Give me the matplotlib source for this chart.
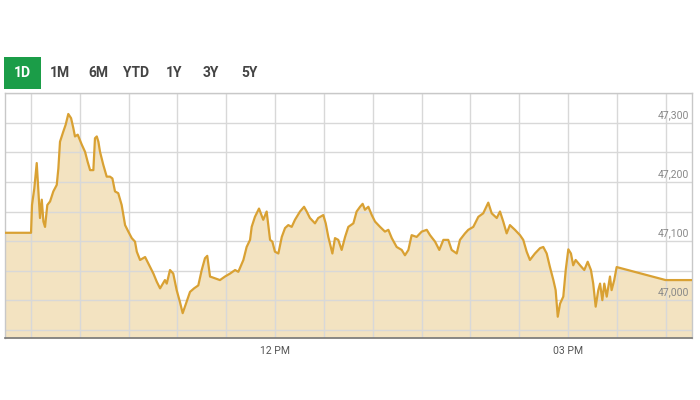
import matplotlib
matplotlib.use("Agg")
import matplotlib.pyplot as plt
from matplotlib.patches import Rectangle

# Time in minutes since midnight, index value
minutes = [554.0, 570.0, 570.6, 572.0, 573.5, 574.5, 575.5, 576.6, 577.6, 578.6, 580.0,
           581.7, 583.7, 585.8, 586.8, 587.8, 589.8, 591.3, 592.9, 594.6, 596.0, 597.0,
           598.7, 601.2, 603.2, 604.8, 606.3, 608.3, 609.3, 610.4, 611.4, 612.4, 614.4,
           616.5, 618.5, 620.0, 621.6, 623.6, 625.7, 627.8, 629.8, 631.9, 633.9, 635.0,
           637.0, 640.1, 642.1, 645.2, 647.3, 649.3, 652.3, 653.4, 655.4, 657.4, 659.5,
           661.5, 663.2, 665.2, 667.7, 670.2, 672.8, 674.9, 676.9, 678.3, 680.0, 683.1,
           686.1, 689.2, 692.3, 695.4, 697.4, 700.5, 702.5, 704.6, 705.6, 707.6, 710.1,
           712.7, 714.8, 716.9, 718.3, 719.9, 722.0, 724.1, 726.1, 728.1, 730.2, 732.2,
           735.3, 737.8, 739.4, 741.4, 744.5, 746.5, 749.6, 751.1, 752.7, 755.2, 756.8,
           758.8, 760.9, 763.0, 765.0, 768.1, 770.1, 772.2, 773.8, 775.2, 777.3, 779.4,
           781.4, 784.5, 787.5, 789.6, 791.7, 794.7, 797.8, 799.8, 801.9, 803.9, 807.0,
           810.1, 813.2, 815.2, 818.3, 820.9, 823.4, 826.4, 828.5, 831.6, 833.6, 836.7,
           838.7, 841.8, 844.9, 847.9, 851.0, 853.1, 856.2, 858.2, 860.2, 862.3, 864.3,
           867.4, 870.5, 872.5, 874.6, 876.6, 879.7, 882.8, 884.8, 886.9, 888.9, 891.0,
           892.4, 893.7, 895.1, 897.1, 898.6, 900.2, 901.8, 903.2, 904.7, 907.4, 910.0,
           912.1, 914.1, 915.5, 917.0, 918.6, 919.7, 921.1, 922.3, 923.8, 925.8, 926.8,
           928.4, 929.9, 960.0, 976.2]
values = [47114, 47114, 47161, 47189, 47232, 47184, 47139, 47170, 47133, 47124, 47161,
          47167, 47184, 47195, 47223, 47268, 47285, 47297, 47315, 47308, 47291, 47277,
          47280, 47263, 47251, 47234, 47220, 47220, 47274, 47277, 47268, 47251, 47229,
          47209, 47209, 47206, 47184, 47181, 47161, 47127, 47116, 47105, 47099, 47082,
          47068, 47073, 47062, 47045, 47031, 47020, 47034, 47028, 47051, 47045, 47017,
          46997, 46978, 46994, 47014, 47020, 47025, 47051, 47071, 47075, 47040, 47037,
          47034, 47040, 47045, 47051, 47048, 47068, 47090, 47102, 47124, 47141, 47155,
          47136, 47150, 47102, 47099, 47082, 47079, 47107, 47122, 47127, 47124, 47136,
          47150, 47158, 47150, 47139, 47130, 47139, 47144, 47130, 47107, 47079, 47105,
          47102, 47085, 47107, 47124, 47130, 47150, 47158, 47163, 47153, 47158, 47144,
          47133, 47124, 47116, 47119, 47105, 47090, 47085, 47076, 47085, 47110, 47107,
          47116, 47119, 47110, 47099, 47085, 47102, 47102, 47085, 47079, 47102, 47113,
          47119, 47124, 47141, 47147, 47165, 47147, 47139, 47150, 47133, 47113, 47127,
          47119, 47110, 47102, 47082, 47068, 47079, 47088, 47090, 47079, 47056, 47034,
          47017, 46972, 46994, 47006, 47051, 47086, 47079, 47059, 47068, 47059, 47051,
          47065, 47051, 47028, 46989, 47017, 47028, 47000, 47028, 47006, 47040, 47017,
          47034, 47056, 47034, 47034]

buttons = ["1D", "1M", "6M", "YTD", "1Y", "3Y", "5Y"]
y_ticks = [47000, 47100, 47200, 47300]
y_tick_labels = ["47,000", "47,100", "47,200", "47,300"]
x_label_ticks = [720, 900]
x_label_texts = ["12 PM", "03 PM"]

LINE = "#d9a133"
FILL = "#f3e3c1"
GRID = "#d8d8d8"

fig = plt.figure(figsize=(7, 4), dpi=100)
fig.patch.set_facecolor("white")
ax = fig.add_axes([5 / 700, 1 - 338 / 400, 687 / 700, 245 / 400])

ymin, ymax = 46936, 47350.5
xmin, xmax = 554.0, 976.2
ax.set_xlim(xmin, xmax)
ax.set_ylim(ymin, ymax)

ax.fill_between(minutes, values, ymin, color=FILL, lw=0, zorder=0.3)
ax.plot(minutes, values, color=LINE, lw=1.6, zorder=3, solid_joinstyle="round")

# grid
ax.set_xticks(list(range(570, 961, 30)))
ax.set_yticks(list(range(46950, 47351, 50)))
ax.set_axisbelow(True)
ax.grid(True, color=GRID, lw=1.0, zorder=0.5)
ax.tick_params(length=0, labelleft=False, labelbottom=False)

for spine in ["top", "left", "right"]:
    ax.spines[spine].set_color("#c8c8c8")
    ax.spines[spine].set_linewidth(1.0)
ax.spines["bottom"].set_color("#777777")
ax.spines["bottom"].set_linewidth(1.2)

for v, lab in zip(y_ticks, y_tick_labels):
    ax.annotate(lab, xy=(1.0, v), xycoords=("axes fraction", "data"),
                xytext=(-2, 2), textcoords="offset points", ha="right", va="bottom",
                fontsize=7.5, color="#888888", family="Roboto")

for t, lab in zip(x_label_ticks, x_label_texts):
    ax.annotate(lab, xy=(t, 0), xycoords=("data", "axes fraction"),
                xytext=(0, -6), textcoords="offset points", ha="center", va="top",
                fontsize=7.5, color="#555555", family="Roboto")

# range buttons
fig.patches.append(Rectangle((4 / 700, 1 - 89 / 400), 37 / 700, 32 / 400,
                             transform=fig.transFigure, facecolor="#1b9d48",
                             edgecolor="none", zorder=1))
btn_x = [22, 60, 98, 136, 174, 211, 249]
for bx, b in zip(btn_x, buttons):
    fig.text(bx / 700, 1 - 73 / 400, b, ha="center", va="center",
             fontsize=10, fontweight="bold", family="Roboto",
             color="white" if b == "1D" else "#444444", zorder=2)

fig.savefig("out.png", dpi=100)
